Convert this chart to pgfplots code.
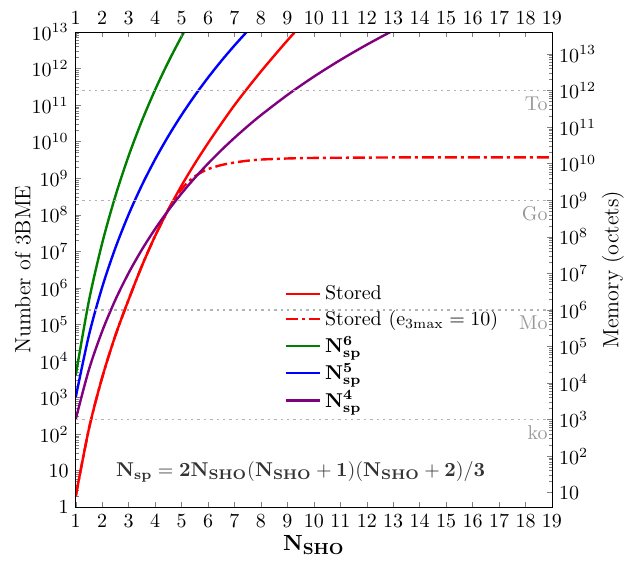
\documentclass[border=0pt]{standalone}
\usepackage{pgfplots}
\pgfplotsset{compat=1.18}
\definecolor{cgreen}{rgb}{0,0.5,0}
\definecolor{cpurple}{rgb}{0.5,0,0.5}
\definecolor{refgray}{gray}{0.6}
\definecolor{linegray}{gray}{0.7}
\definecolor{formgray}{gray}{0.2}
\begin{document}
\begin{tikzpicture}
\begin{axis}[
  width=238pt, height=237.5pt, scale only axis,
  xmin=1, xmax=19, xtick={1,...,19},
  ymode=log, ymin=1, ymax=1e13,
  ytick={1,10,100,1000,1e4,1e5,1e6,1e7,1e8,1e9,1e10,1e11,1e12,1e13},
  yticklabels={$1$,$10$,$10^{2}$,$10^{3}$,$10^{4}$,$10^{5}$,$10^{6}$,$10^{7}$,$10^{8}$,$10^{9}$,$10^{10}$,$10^{11}$,$10^{12}$,$10^{13}$},
  tick pos=left,
  major tick length=2.5pt, minor tick length=1.5pt,
  xlabel={\fontsize{11}{13}\selectfont$\mathbf{N_{SHO}}$},
  xlabel style={at={(axis description cs:0.5,-0.092)}, anchor=base},
  ylabel={\fontsize{11}{13}\selectfont Number of 3BME},
  ylabel style={at={(axis description cs:-0.111,0.5)}, anchor=center, rotate=0},
  legend cell align=left,
  legend style={draw=none, fill=none, at={(0.425,0.485)}, anchor=north west, font=\normalsize},
  every axis plot/.append style={line width=1.2pt},
]
\coordinate (bl) at (rel axis cs:0,0);
\coordinate (tr) at (rel axis cs:1,1);
\addplot[red, smooth] coordinates {
 (1,2.0) (1.5,141) (2,3548) (2.5,5.01e4) (3,4.79e5) (3.5,3.98e6) (4,2.63e7)
 (4.5,1.38e8) (5,6.31e8) (5.5,2.51e9) (6,9.12e9) (6.5,3.09e10) (7,1e11)
 (7.5,2.95e11) (8,8.32e11) (8.5,2.24e12) (9,5.89e12) (9.5,1.48e13)};
\addlegendentry{Stored}
\addplot[red, smooth, dash pattern=on 6pt off 2pt on 1.5pt off 2pt] coordinates {
 (1,2.0) (1.5,141) (2,3548) (2.5,5.01e4) (3,4.79e5) (3.5,3.98e6) (4,2.63e7)
 (4.5,1.38e8) (4.75,2.82e8) (5,5.01e8) (5.25,7.94e8) (5.5,1.12e9) (5.75,1.45e9)
 (6,1.78e9) (6.5,2.29e9) (7,2.69e9) (7.5,3.02e9) (8,3.24e9) (9,3.47e9)
 (10,3.59e9) (12,3.67e9) (14,3.72e9) (19,3.72e9)};
\addlegendentry{Stored ($\mathrm{e_{3max}}=10$)}
\addplot[cgreen, smooth] coordinates {
 (1,4096) (1.5,4.488e5) (2,1.678e7) (2.5,3.272e8) (3,4.096e9) (3.5,3.710e10)
 (4,2.621e11) (4.5,1.522e12) (5,7.530e12) (5.5,3.26e13)};
\addlegendentry{$\mathbf{N_{sp}^6}$}
\addplot[blue, smooth] coordinates {
 (1,1024) (1.5,5.129e4) (2,1.0486e6) (2.5,1.246e7) (3,1.024e8) (3.5,6.424e8)
 (4,3.277e9) (4.5,1.419e10) (5,5.378e10) (5.5,1.825e11) (6,5.640e11) (6.5,1.609e12)
 (7,4.282e12) (7.5,1.073e13) (8,2.548e13)};
\addlegendentry{$\mathbf{N_{sp}^5}$}
\addplot[cpurple, smooth] coordinates {
 (1,256) (1.5,5862) (2,65536) (2.5,4.748e5) (3,2.56e6) (3.5,1.112e7) (4,4.096e7)
 (4.5,1.323e8) (5,3.842e8) (5.5,1.021e9) (6,2.518e9) (6.5,5.824e9) (7,1.2745e10)
 (7.5,2.657e10) (8,5.308e10) (9,1.897e11) (10,5.997e11) (11,1.713e12) (12,4.494e12)
 (13,1.097e13) (14,2.518e13)};
\addlegendentry{$\mathbf{N_{sp}^4}$}
\addplot[linegray, dotted, line width=0.6pt, forget plot] coordinates {(1,2.5e11) (19,2.5e11)};
\addplot[linegray, dotted, line width=0.6pt, forget plot] coordinates {(1,2.5e8) (19,2.5e8)};
\addplot[linegray, dotted, line width=0.6pt, forget plot] coordinates {(1,2.5e5) (19,2.5e5)};
\addplot[linegray, dotted, line width=0.6pt, forget plot] coordinates {(1,250) (19,250)};
\node[anchor=north east, text=refgray, inner sep=2pt, yshift=-1pt] at (axis cs:19,2.5e11) {To};
\node[anchor=north east, text=refgray, inner sep=2pt, yshift=-1pt] at (axis cs:19,2.5e8) {Go};
\node[anchor=north east, text=refgray, inner sep=2pt, yshift=-1pt] at (axis cs:19,2.5e5) {Mo};
\node[anchor=north east, text=refgray, inner sep=2pt, yshift=-1pt] at (axis cs:19,250) {ko};
\node[text=formgray, font=\fontsize{9.7}{11}\selectfont] at (axis cs:9.5,9.0) {$\mathbf{N_{sp}=2N_{SHO}(N_{SHO}+1)(N_{SHO}+2)/3}$};
\end{axis}
\begin{axis}[
  width=238pt, height=237.5pt, scale only axis,
  xmin=1, xmax=19, xtick={1,...,19},
  ymode=log, ymin=4, ymax=4e13,
  ytick={10,100,1000,1e4,1e5,1e6,1e7,1e8,1e9,1e10,1e11,1e12,1e13},
  yticklabels={$10$,$10^{2}$,$10^{3}$,$10^{4}$,$10^{5}$,$10^{6}$,$10^{7}$,$10^{8}$,$10^{9}$,$10^{10}$,$10^{11}$,$10^{12}$,$10^{13}$},
  tick pos=right, xticklabel pos=right, yticklabel pos=right,
  major tick length=2.5pt, minor tick length=1.5pt,
  ylabel={\fontsize{11}{13}\selectfont Memory (octets)},
  ylabel style={at={(axis description cs:1.128,0.5)}, anchor=center},
]
\addplot[draw=none, forget plot] coordinates {(1,4) (19,4e13)};
\end{axis}
\pgfresetboundingbox
\path[use as bounding box] ([shift={(-37.85pt,-27.5pt)}]bl) rectangle ([shift={(37.5pt,16pt)}]tr);
\end{tikzpicture}
\end{document}
